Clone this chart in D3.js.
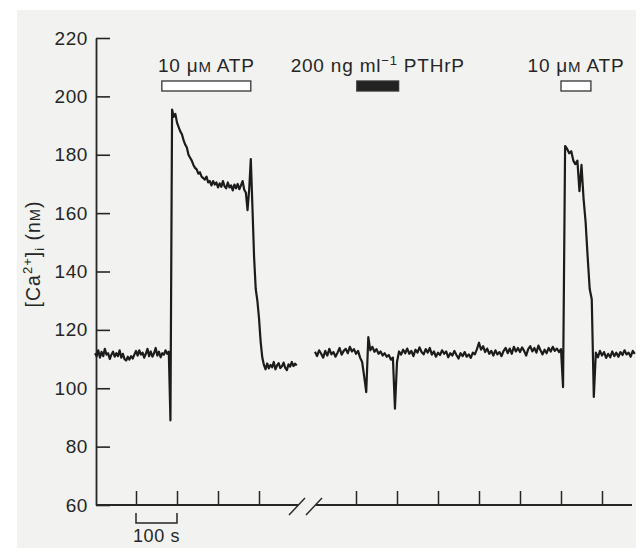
<!DOCTYPE html>
<html>
<head>
<meta charset="utf-8">
<script src="https://cdn.jsdelivr.net/npm/d3@7"></script>
<style>
  html, body { margin: 0; padding: 0; background: #fff; }
  svg { display: block; font-family: 'Liberation Sans', Arial, Helvetica, sans-serif; }
</style>
</head>
<body>
<div id="container"></div>
<script>
// Trace before the axis break: one reading every 4 s from t = 0 (nM).
const seg1Start = 0, seg1Step = 4;
const seg1Ca = [
  112, 111, 113, 110.5, 112.5, 111, 113.5, 111.5, 112, 110,
  111.5, 112.5, 110.8, 112, 111, 113, 110.5, 111.8, 110, 109.5,
  110.8, 109.8, 111, 110.2, 111.5, 112.8, 111.2, 113, 111.5, 112.2,
  110.5, 111.8, 113.5, 111, 112.6, 110.8, 112, 113.8, 111.2, 112.5,
  110.6, 112, 111.5, 113, 111.8, 112.5, 89, 195.5, 193, 194,
  191, 189.5, 188, 187, 185, 183.5, 182.5, 180, 179, 178,
  176.5, 175.5, 175, 173.5, 174, 172.5, 172, 171.5, 172.5, 170.5,
  171, 169.5, 171, 169.8, 170.5, 168.8, 170.2, 169, 171, 169.2,
  168.5, 170.5, 168.8, 169.5, 167.8, 169.8, 168.5, 170, 168.2, 169.5,
  171, 168, 167, 161, 168, 178.5, 162, 145, 134, 130,
  124, 116, 110.5, 108, 106.5, 108.5, 106.8, 108, 107.2, 109,
  106.5, 107.8, 108.6, 106.9, 107.5, 108.8, 107, 106.2, 108.2, 107.4,
  109, 107.6, 108.4, 107.8
];

// Trace after the axis break: one reading every 5 s from t = 700 (nM).
const seg2Start = 700, seg2Step = 5;
const seg2Ca = [
  112.5, 111, 113, 111.8, 110.5, 112.8, 111.2, 113.5, 111.6, 112.4,
  110.8, 112.2, 113.8, 111.5, 112.8, 113.5, 112, 114.2, 112.6, 113.4,
  111.8, 112.8, 110.5, 109, 104, 98.7, 117.5, 113, 114.2, 112.5,
  113.4, 111.8, 112.6, 111.2, 112, 110.8, 111.4, 109.8, 110.5, 93,
  109, 112.6, 111.5, 113.2, 112, 113.6, 111.8, 112.8, 111, 113.2,
  112.2, 114, 112.4, 111.6, 113.4, 112.2, 113.8, 111.5, 112.6, 110.8,
  112.2, 111.4, 113, 111.8, 112.6, 110.6, 112, 111.2, 112.8, 111.4,
  110.2, 112, 111, 112.4, 110.8, 111.6, 110.4, 112.2, 111.6, 113.4,
  115.6, 113.2, 114.4, 112.4, 113.6, 111.8, 112.8, 111.2, 113, 111.6,
  112.4, 111, 112.8, 113.8, 112, 113.6, 111.8, 114.2, 112.6, 113.8,
  112.4, 114, 112.8, 111.2, 113.4, 114.4, 112.6, 113.8, 112.2, 114.6,
  113, 111.6, 113.2, 112, 113.8, 112.6, 114.2, 112.8, 113.6, 112.4,
  113.4, 100.4, 183, 182, 180.5, 181.2, 178, 176.8, 178, 167.5,
  176.5, 165, 157, 145, 134, 130.5, 97, 112.2, 110.6, 112.8,
  111.2, 112.4, 110.4, 111.8, 110.6, 112.6, 111, 112.2, 110.8, 112.4,
  111.4, 113, 111.6, 112.2, 110.8, 112.8, 111.8
];

// Axes.
const yTicks = [60, 80, 100, 120, 140, 160, 180, 200, 220];
const xTicks = [100, 200, 300, 400, 800, 900, 1000, 1100, 1200, 1300, 1400];
const breakFrom = 500, breakTo = 700;
const scaleBarSeconds = [100, 200];

// Drug applications (s).
const stimKind = ['ATP', 'PTHrP', 'ATP'];
const stimStart = [163, 802, 1300];
const stimEnd = [380, 904, 1373];

const width = 636, height = 548;

const svg = d3
  .select('#container')
  .append('svg')
  .attr('width', width)
  .attr('height', height);

// Paper background.
svg.append('rect').attr('width', width).attr('height', height).attr('fill', '#fff');
svg.append('rect')
  .attr('x', 17).attr('y', 10)
  .attr('width', width - 17).attr('height', height - 10)
  .attr('fill', '#f2f2f0');

// Scales: the time axis is cut between breakFrom and breakTo.
const x = d3.scaleLinear()
  .domain([0, breakFrom, breakTo, 1500])
  .range([95, 300, 315, 643]);
const y = d3.scaleLinear().domain([60, 220]).range([505, 38]);

const ink = '#262626';

// Y axis, ticks pointing inwards.
const yAxis = svg.append('g')
  .attr('transform', 'translate(96,0)')
  .call(d3.axisLeft(y).tickValues(yTicks).tickSize(-14).tickPadding(8).tickSizeOuter(0));
yAxis.select('.domain').attr('stroke', ink).attr('stroke-width', 1.8);
yAxis.selectAll('.tick line').attr('stroke', ink).attr('stroke-width', 1.6);
yAxis.selectAll('.tick text')
  .attr('fill', ink)
  .attr('font-size', 19)
  .attr('letter-spacing', 0.6)
  .attr('font-family', "'Liberation Sans', Arial, sans-serif");

// X axis, drawn as two pieces around the break.
const xAxis = svg.append('g')
  .attr('transform', `translate(0,${y(60)})`)
  .call(d3.axisBottom(x).tickValues(xTicks).tickSize(-14).tickFormat(''));
xAxis.select('.domain').remove();
xAxis.selectAll('.tick line').attr('stroke', ink).attr('stroke-width', 1.5);

const axisY = y(60);
svg.append('line')
  .attr('x1', 96).attr('x2', 298).attr('y1', axisY).attr('y2', axisY)
  .attr('stroke', ink).attr('stroke-width', 1.8);
svg.append('line')
  .attr('x1', 316).attr('x2', 632).attr('y1', axisY).attr('y2', axisY)
  .attr('stroke', ink).attr('stroke-width', 1.8);

// Break marks.
[298, 315].forEach(cx => {
  svg.append('line')
    .attr('x1', cx - 9).attr('y1', axisY + 10)
    .attr('x2', cx + 7).attr('y2', axisY - 7)
    .attr('stroke', ink).attr('stroke-width', 1.4);
});

// Scale bar under the axis.
const sb0 = x(scaleBarSeconds[0]), sb1 = x(scaleBarSeconds[1]);
svg.append('path')
  .attr('d', `M${sb0},${axisY + 8}V${axisY + 18}H${sb1}V${axisY + 8}`)
  .attr('fill', 'none')
  .attr('stroke', ink)
  .attr('stroke-width', 1.5);
svg.append('text')
  .attr('x', (sb0 + sb1) / 2)
  .attr('y', 542)
  .attr('text-anchor', 'middle')
  .attr('font-size', 18)
  .attr('letter-spacing', 0.6)
  .attr('fill', ink)
  .text('100 s');

// Y label.
const yLab = svg.append('text')
  .attr('transform', 'translate(40,254) rotate(-90)')
  .attr('text-anchor', 'middle')
  .attr('font-size', 19.5)
  .attr('letter-spacing', 1)
  .attr('fill', ink);
yLab.append('tspan').text('[Ca');
yLab.append('tspan').attr('font-size', 13).attr('dy', -8).text('2+');
yLab.append('tspan').attr('dy', 8).text(']');
yLab.append('tspan').attr('font-size', 13).attr('dy', 4).text('i');
yLab.append('tspan').attr('dy', -4).text(' (n');
yLab.append('tspan').attr('font-size', 14.5).text('M');
yLab.append('tspan').text(')');

// Trace.
const line = d3.line()
  .x(d => x(d[0]))
  .y(d => y(d[1]));

[[seg1Start, seg1Step, seg1Ca], [seg2Start, seg2Step, seg2Ca]].forEach(([t0, dt, vals]) => {
  svg.append('path')
    .datum(vals.map((v, i) => [t0 + i * dt, v]))
    .attr('d', line)
    .attr('fill', 'none')
    .attr('stroke', '#1c1c1c')
    .attr('stroke-width', 2.2)
    .attr('stroke-linejoin', 'round');
});

// Application bars and labels.
const barTop = 81, barH = 10;
stimKind.forEach((k, i) => {
  const x0 = x(stimStart[i]), x1 = x(stimEnd[i]);
  svg.append('rect')
    .attr('x', x0).attr('y', barTop)
    .attr('width', x1 - x0).attr('height', barH)
    .attr('fill', k === 'ATP' ? '#fff' : '#222')
    .attr('stroke', '#333')
    .attr('stroke-width', 1.3);

  const lab = svg.append('text')
    .attr('x', (x0 + x1) / 2)
    .attr('y', 72)
    .attr('text-anchor', 'middle')
    .attr('font-size', 19)
    .attr('letter-spacing', 0.8)
    .attr('fill', ink);
  if (k === 'ATP') {
    lab.append('tspan').text('10 \u03bc');
    lab.append('tspan').attr('font-size', 15).text('M');
    lab.append('tspan').text(' ATP');
  } else {
    lab.append('tspan').text('200 ng ml');
    lab.append('tspan').attr('font-size', 13).attr('dy', -7).text('\u22121');
    lab.append('tspan').attr('dy', 7).text(' PTHrP');
  }
});
</script>
</body>
</html>
